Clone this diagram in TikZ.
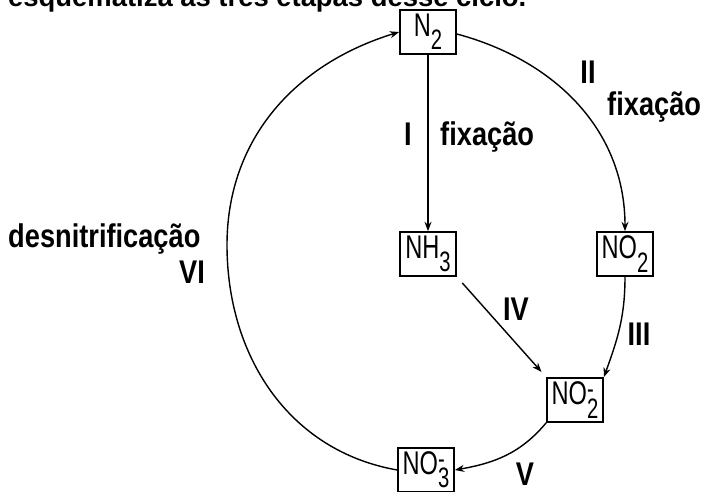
\documentclass[tikz,border=0pt]{standalone}
\usepackage{fontspec}
\setmainfont{Liberation Sans}
\newfontfamily\lblfont[FakeStretch=0.83]{Liberation Sans}
\newfontfamily\boxfont[FakeStretch=0.72]{Liberation Sans}
\usetikzlibrary{arrows.meta,positioning,calc}
\newcommand\lowsub[1]{\raisebox{-0.4em}{\fontsize{24}{24}\selectfont #1}}
\newcommand\ionsub[1]{\rlap{\raisebox{0.2em}{\fontsize{24}{24}\selectfont -}}\lowsub{#1}}

\begin{document}
\begin{tikzpicture}[x=0.03cm,y=0.03cm,>={Stealth[length=8pt,width=6pt]},
  box/.style={draw,fill=white,line width=1.4pt,minimum width=1.68cm,minimum height=1.32cm,
              inner sep=0pt,font=\boxfont\fontsize{28}{28}\selectfont},
  lbl/.style={inner sep=0pt,font=\lblfont\bfseries\fontsize{28}{28}\selectfont},
  cyc/.style={->,line width=1.2pt}]
\useasboundingbox (0,0) rectangle (702,491);
\clip (0,0) rectangle (702,491);
% caption cut at the top edge
\node[anchor=base west,inner sep=0pt,font=\bfseries\fontsize{23.4}{23.4}\selectfont] (cap) at (8,484) {esquematiza as três etapas desse ciclo.};
% species
\node[box] (n2) at (428,459) {N\lowsub{2}};
\node[box] (nh3) at (428,237) {NH\lowsub{3}};
\node[box] (no2) at (625,237) {NO\lowsub{2}};
\node[box] (no2m) at (575,91) {NO\ionsub{2}};
\node[box] (no3m) at (426,21) {NO\ionsub{3}};
\coordinate (vi) at (227,246);
% steps
\draw[cyc] (n2.south) -- (nh3.north);
\draw[cyc] ($(n2.east)+(0,-2)$) to[out=-15,in=90] (no2.north);
\draw[cyc] (no2.south) to[out=-90,in=70] (no2m.north east);
\draw[cyc,shorten <=7pt,shorten >=6pt] (nh3.south east) -- (no2m.north west);
\draw[cyc] (no2m.south west) to[out=-130,in=10] (no3m.east);
\draw[cyc] (no3m.west) to[out=170,in=-90] (vi) to[out=90,in=197] (n2.west);
% labels
\node[lbl,anchor=base] (l1) at (408,346) {I};
\node[lbl,anchor=base west] (f1) at (440,346) {fixação};
\node[lbl,anchor=base] (l2) at (588,408) {II};
\node[lbl,anchor=base west] (f2) at (607,376) {fixação};
\node[lbl,anchor=base] (l3) at (639,146) {III};
\node[lbl,anchor=base] (l4) at (516,171) {IV};
\node[lbl,anchor=base] (l5) at (525,6) {V};
\node[lbl,anchor=base] (l6) at (192,208) {VI};
\node[lbl,anchor=base west] (dn) at (8,244) {desnitrificação};
\end{tikzpicture}
\end{document}
